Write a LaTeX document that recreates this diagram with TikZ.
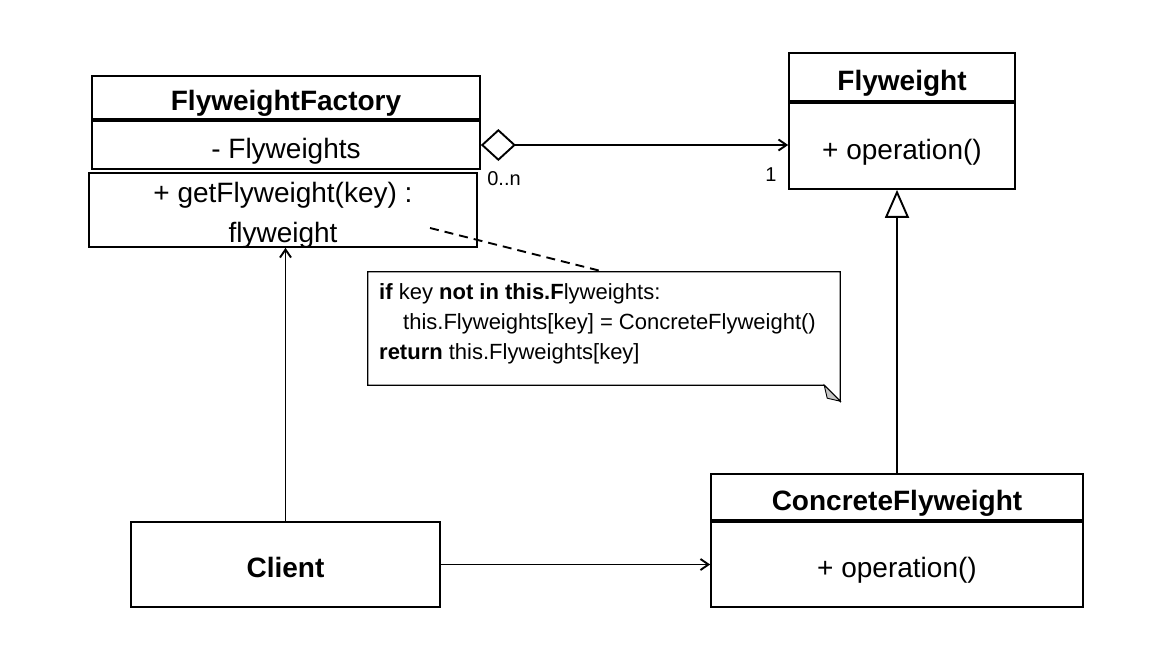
\documentclass[tikz,border=0pt]{standalone}
\usepackage{fontspec}
\setmainfont{Liberation Sans}
\usetikzlibrary{arrows.meta}
\begin{document}
\begin{tikzpicture}[x=1pt,y=-1pt,
  box/.style={draw, line width=1.7pt, inner sep=0pt, fill=white, text height=28pt, text depth=2pt},
  big/.style={font=\fontsize{28}{40}\selectfont},
  small/.style={font=\fontsize{20}{24}\selectfont},
  conn/.style={line width=1.9pt},
  open arrow/.style={conn, -{Straight Barb[length=8pt,width=11pt,line width=1.9pt]}},
]
\useasboundingbox (0,0) rectangle (1166,664);
% FlyweightFactory
\node[box, big, minimum width=388pt, minimum height=43pt] (fft) at (286,97.5) {\textbf{FlyweightFactory}};
\node[box, big, minimum width=388pt, minimum height=48pt] (ffa) at (286,145) {- Flyweights};
\node[box, minimum width=388pt, minimum height=74pt] (ffm) at (283,210) {};
\node[big, align=center, inner sep=0pt] (ffmtext) at (283,215) {+ getFlyweight(key) :\\flyweight};
% Flyweight
\node[box, big, minimum width=226pt, minimum height=48pt] (fwt) at (902,77) {\textbf{Flyweight}};
\node[box, big, minimum width=226pt, minimum height=86pt] (fwb) at (902,146) {+ operation()};
% ConcreteFlyweight
\node[box, big, minimum width=372pt, minimum height=46pt] (cft) at (897,497) {\textbf{ConcreteFlyweight}};
\node[box, big, minimum width=372pt, minimum height=85pt] (cfb) at (897,564.5) {+ operation()};
% Client
\node[box, big, minimum width=309pt, minimum height=85pt] (client) at (285.5,564.5) {\textbf{Client}};
% Note
\node[minimum width=472pt, minimum height=113pt, inner sep=0pt] (note) at (604,328.5) {};
\draw[line width=1.3pt, fill=white] (note.north west) -- (note.north east) -- ([yshift=-16pt]note.south east) -- ([xshift=-16pt]note.south east) -- (note.south west) -- cycle;
\draw[line width=0.9pt, fill=gray!45] ([xshift=-16pt]note.south east) -- ([yshift=-16pt]note.south east) -- ([xshift=-13pt,yshift=-13pt]note.south east) -- cycle;
\node[anchor=north west, align=left, inner sep=0pt, font=\fontsize{22}{30}\selectfont] (notetext) at (379,283)
  {\textbf{if} key \textbf{not in this.F}lyweights:\\
   \hspace*{24pt}this.Flyweights[key] = ConcreteFlyweight()\\
   \textbf{return} this.Flyweights[key]};
\coordinate (dstart) at (430,228);
\draw[conn, dashed, dash pattern=on 9pt off 6pt] (dstart) -- (note.north);
% Aggregation
\draw[conn, {Diamond[open,length=35pt,width=32pt,line width=1.9pt]}-{Straight Barb[length=8pt,width=11pt,line width=1.9pt]}] (ffa.east) -- (ffa.east -| fwb.west);
\node[small] (lbl0n) at (504,179) {0..n};
\node[small] (lbl1) at (771,175) {1};
% Generalization
\draw[conn, -{Triangle[open,length=28pt,width=24pt,line width=1.9pt,fill=white]}] (cft.north) -- (cft.north |- fwb.south);
% Client associations
\draw[open arrow] (client.north) -- (client.north |- ffm.south);
\draw[open arrow] (client.east) -- (cfb.west);
\end{tikzpicture}
\end{document}
